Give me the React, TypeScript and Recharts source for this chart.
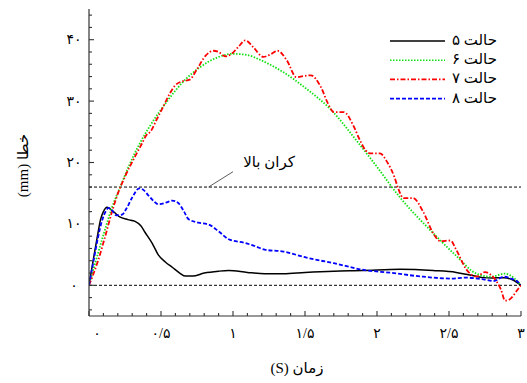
import React from 'react';
import { LineChart, Line, XAxis, YAxis, ReferenceLine, ReferenceDot, Legend, Label } from 'recharts';

const FONT = '"Liberation Serif", "DejaVu Sans", serif';

// ---- series names & styles ----
const seriesNames = ['حالت ۵', 'حالت ۶', 'حالت ۷', 'حالت ۸'];
const seriesColors = ['#000000', '#11e011', '#ff0000', '#0000ff'];
const seriesDashes = ['', '1.5 1.5', '5 2 1.5 2', '4 2'];

// ---- case 5 (black) ----
const case5Time = [0, 0.03, 0.06, 0.08, 0.1, 0.125, 0.16, 0.21, 0.27, 0.32, 0.36, 0.39, 0.44, 0.48, 0.53, 0.58, 0.63, 0.67, 0.72, 0.8, 0.9, 0.97, 1.1, 1.22, 1.35, 1.5, 1.7, 1.9, 2.16, 2.39, 2.55, 2.62, 2.7, 2.74, 2.8, 2.88, 2.94, 3.0];
const case5Error = [0, 4.2, 8.2, 10.7, 12.0, 12.7, 12.2, 11.2, 10.7, 10.4, 9.7, 8.6, 6.8, 5.0, 3.8, 2.9, 2.0, 1.5, 1.5, 2.0, 2.3, 2.4, 2.1, 1.9, 1.9, 2.1, 2.3, 2.4, 2.6, 2.4, 2.1, 1.8, 1.4, 1.25, 1.2, 1.25, 0.9, 0];

// ---- case 6 (green) ----
const case6Time = [0, 0.1, 0.16, 0.22, 0.28, 0.35, 0.43, 0.54, 0.66, 0.77, 0.89, 1.0, 1.1, 1.19, 1.35, 1.51, 1.68, 1.86, 1.98, 2.16, 2.39, 2.55, 2.69, 2.79, 2.89, 2.95, 3.0];
const case6Error = [0, 8.2, 12.7, 16.2, 19.6, 23.0, 26.2, 29.9, 33.3, 35.5, 37.1, 37.7, 37.5, 36.7, 34.7, 32.0, 28.6, 23.5, 19.9, 14.3, 8.5, 4.8, 1.9, 1.4, 1.9, 1.2, 0];

// ---- case 7 (red) ----
const case7Time = [0, 0.06, 0.113, 0.16, 0.206, 0.25, 0.32, 0.368, 0.4, 0.426, 0.47, 0.52, 0.56, 0.6, 0.645, 0.7, 0.75, 0.81, 0.865, 0.9, 0.946, 0.99, 1.04, 1.085, 1.14, 1.21, 1.26, 1.31, 1.375, 1.44, 1.5, 1.54, 1.61, 1.66, 1.7, 1.77, 1.84, 1.88, 1.92, 1.95, 2.02, 2.07, 2.12, 2.15, 2.185, 2.25, 2.32, 2.39, 2.44, 2.51, 2.55, 2.62, 2.69, 2.75, 2.81, 2.86, 2.89, 2.92, 2.98, 3.0];
const case7Error = [0, 3.8, 8.0, 12.0, 15.3, 17.7, 21.0, 23.1, 24.5, 25.0, 27.0, 29.3, 31.2, 32.6, 33.2, 33.5, 35.2, 37.4, 38.2, 38.0, 37.3, 37.7, 38.9, 39.9, 38.8, 37.2, 37.6, 38.2, 36.6, 33.9, 34.1, 34.2, 32.3, 29.6, 28.2, 28.2, 25.8, 23.7, 22.0, 21.5, 21.5, 20.1, 17.7, 15.6, 14.2, 14.2, 12.0, 8.5, 7.2, 7.3, 5.8, 2.6, 1.4, 2.15, 1.25, -0.65, -2.5, -2.3, -0.6, 0];

// ---- case 8 (blue) ----
const case8Time = [0, 0.03, 0.06, 0.09, 0.12, 0.136, 0.16, 0.19, 0.23, 0.26, 0.3, 0.35, 0.38, 0.41, 0.45, 0.48, 0.54, 0.576, 0.62, 0.66, 0.69, 0.76, 0.83, 0.9, 0.97, 1.085, 1.15, 1.22, 1.35, 1.51, 1.7, 1.91, 2.09, 2.32, 2.51, 2.62, 2.74, 2.81, 2.88, 2.93, 2.97, 3.0];
const case8Error = [0, 3.8, 7.5, 10.5, 12.2, 12.6, 12.2, 11.4, 11.5, 12.5, 14.3, 15.8, 15.5, 14.7, 13.7, 13.2, 13.5, 13.8, 13.4, 12.0, 10.8, 10.2, 9.9, 8.8, 7.5, 6.9, 6.4, 5.8, 5.5, 4.5, 3.6, 2.5, 2.05, 1.4, 1.1, 1.25, 0.97, 0.7, 1.4, 1.1, 0.7, 0.1];

// ---- axes ----
const xMajorTicks = [0, 0.5, 1, 1.5, 2, 2.5, 3];
const xTickLabels = ['۰', '۰/۵', '۱', '۱/۵', '۲', '۲/۵', '۳'];
const yMajorTicks = [0, 10, 20, 30, 40];
const yTickLabels = ['۰', '۱۰', '۲۰', '۳۰', '۴۰'];
const xDomain: [number, number] = [0, 3];
const yDomain: [number, number] = [-5, 45];
const upperBound = 16;
const upperBoundLabel = 'کران بالا';
const xAxisTitle = 'زمان (S)';
const yAxisTitle = 'خطا (mm)';

const xMinorTicks = Array.from({ length: 31 }, (_, i) => i / 10);
const yMinorTicks = Array.from({ length: 25 }, (_, i) => -4 + i * 2);

const toPoints = (t: number[], v: number[]) => t.map((x, i) => ({ t: x, v: v[i] }));
const seriesData = [
  toPoints(case5Time, case5Error),
  toPoints(case6Time, case6Error),
  toPoints(case7Time, case7Error),
  toPoints(case8Time, case8Error),
];

const AXIS = '#333';
const isMajor = (list: number[], v: number) => list.findIndex((m) => Math.abs(m - v) < 1e-6);

const BottomTick = (props: any) => {
  const { x, y, payload } = props;
  const idx = isMajor(xMajorTicks, payload.value);
  return (
    <g>
      <path d={`M${x},${y}L${x},${y - (idx >= 0 ? 5 : 3)}`} stroke={AXIS} strokeWidth={1.1} />
      {idx >= 0 && (
        <text x={x + (idx === 0 ? 8 : 0)} y={y + 17} textAnchor="middle" dominantBaseline="central" fontSize={14} fontFamily={FONT} fill="#000">
          {xTickLabels[idx]}
        </text>
      )}
    </g>
  );
};

const TopTick = (props: any) => {
  const { x, y, payload } = props;
  const idx = isMajor(xMajorTicks, payload.value);
  return <path d={`M${x},${y}L${x},${y + (idx >= 0 ? 5 : 3)}`} stroke={AXIS} strokeWidth={1.1} />;
};

const LeftTick = (props: any) => {
  const { x, y, payload } = props;
  const idx = isMajor(yMajorTicks, payload.value);
  return (
    <g>
      <path d={`M${x},${y}L${x + (idx >= 0 ? 5 : 3)},${y}`} stroke={AXIS} strokeWidth={1.1} />
      {idx >= 0 && (
        <text x={x - 15} y={y} textAnchor="middle" dominantBaseline="central" fontSize={14} fontFamily={FONT} fill="#000">
          {yTickLabels[idx]}
        </text>
      )}
    </g>
  );
};

const RightTick = (props: any) => {
  const { x, y, payload } = props;
  const idx = isMajor(yMajorTicks, payload.value);
  return <path d={`M${x},${y}L${x - (idx >= 0 ? 5 : 3)},${y}`} stroke={AXIS} strokeWidth={1.1} />;
};

const LegendBox = () => (
  <svg width={527} height={383} style={{ position: 'absolute', left: 0, top: 0 }}>
    {seriesNames.map((name, i) => {
      const y = 41 + i * 19.2;
      return (
        <g key={name}>
          <line x1={390} x2={445} y1={y} y2={y} stroke={seriesColors[i]} strokeWidth={1.6} strokeDasharray={seriesDashes[i] || undefined} />
          <text x={452} y={y - 1} dominantBaseline="central" fontSize={15} fontFamily={FONT} fill="#000">
            {name}
          </text>
        </g>
      );
    })}
  </svg>
);

export default function App() {
  return (
    <div style={{ width: 527, height: 383, position: 'relative', background: '#fff' }}>
      <style>{'body{margin:0;}'}</style>
      <LineChart width={527} height={383} margin={{ top: 9, right: 6, bottom: 0, left: 0 }}>
        <XAxis xAxisId={0} dataKey="t" type="number" domain={xDomain} allowDataOverflow ticks={xMinorTicks} interval={0} height={67} tickSize={0} tickMargin={0} tickLine={false} axisLine={{ stroke: AXIS, strokeWidth: 1.2 }} tick={<BottomTick />}>
          <Label
            content={(p: any) => {
              const vb = p.viewBox || { x: 89, y: 316, width: 432 };
              return (
                <text x={vb.x + vb.width / 2 - 8} y={368} direction="rtl" textAnchor="middle" dominantBaseline="central" fontSize={15} fontFamily={FONT} fill="#000">
                  {xAxisTitle}
                </text>
              );
            }}
          />
        </XAxis>
        <XAxis xAxisId="top" dataKey="t" orientation="top" type="number" domain={xDomain} allowDataOverflow ticks={xMinorTicks} interval={0} height={0} tickSize={0} tickMargin={0} tickLine={false} axisLine={{ stroke: AXIS, strokeWidth: 1.2 }} tick={<TopTick />} />
        <YAxis yAxisId={0} type="number" domain={yDomain} allowDataOverflow ticks={yMinorTicks} interval={0} width={89} tickSize={0} tickMargin={0} tickLine={false} axisLine={{ stroke: AXIS, strokeWidth: 1.2 }} tick={<LeftTick />}>
          <Label
            content={(p: any) => {
              const vb = p.viewBox || { y: 9, height: 307 };
              const cx = 23;
              const cy = vb.y + vb.height / 2 + 3;
              return (
                <text x={cx} y={cy} direction="rtl" transform={`rotate(-90, ${cx}, ${cy})`} textAnchor="middle" dominantBaseline="central" fontSize={15} fontFamily={FONT} fill="#000">
                  {yAxisTitle}
                </text>
              );
            }}
          />
        </YAxis>
        <YAxis yAxisId="right" orientation="right" type="number" domain={yDomain} allowDataOverflow ticks={yMinorTicks} interval={0} width={0} tickSize={0} tickMargin={0} tickLine={false} axisLine={{ stroke: AXIS, strokeWidth: 1.2 }} tick={<RightTick />} />
        <ReferenceLine y={upperBound} stroke="#000" strokeDasharray="3 2" strokeWidth={1} />
        <ReferenceLine y={0} stroke="#000" strokeDasharray="3 2" strokeWidth={1} />
        <ReferenceLine segment={[{ x: 0.83, y: 16 }, { x: 1.0, y: 18.5 }]} stroke="#333" strokeWidth={0.8} />
        <ReferenceDot x={1.25} y={20.2} r={0} fill="none" stroke="none" label={{ value: upperBoundLabel, position: 'center', fontSize: 15, fill: '#000', fontFamily: FONT }} />
        {seriesData.map((d, i) => (
          <Line
            key={seriesNames[i]}
            data={d}
            dataKey="v"
            name={seriesNames[i]}
            xAxisId={i === 0 ? 'top' : 0}
            yAxisId={i === 0 ? 'right' : 0}
            type="monotone"
            stroke={seriesColors[i]}
            strokeWidth={i === 0 ? 1.5 : 1.8}
            strokeDasharray={seriesDashes[i] || undefined}
            dot={false}
            activeDot={false}
            isAnimationActive={false}
          />
        ))}
        <Legend layout="vertical" align="center" verticalAlign="middle" wrapperStyle={{ position: 'absolute', left: 0, top: 0, width: 527, height: 383, pointerEvents: 'none' }} content={() => <LegendBox />} />
      </LineChart>
    </div>
  );
}
